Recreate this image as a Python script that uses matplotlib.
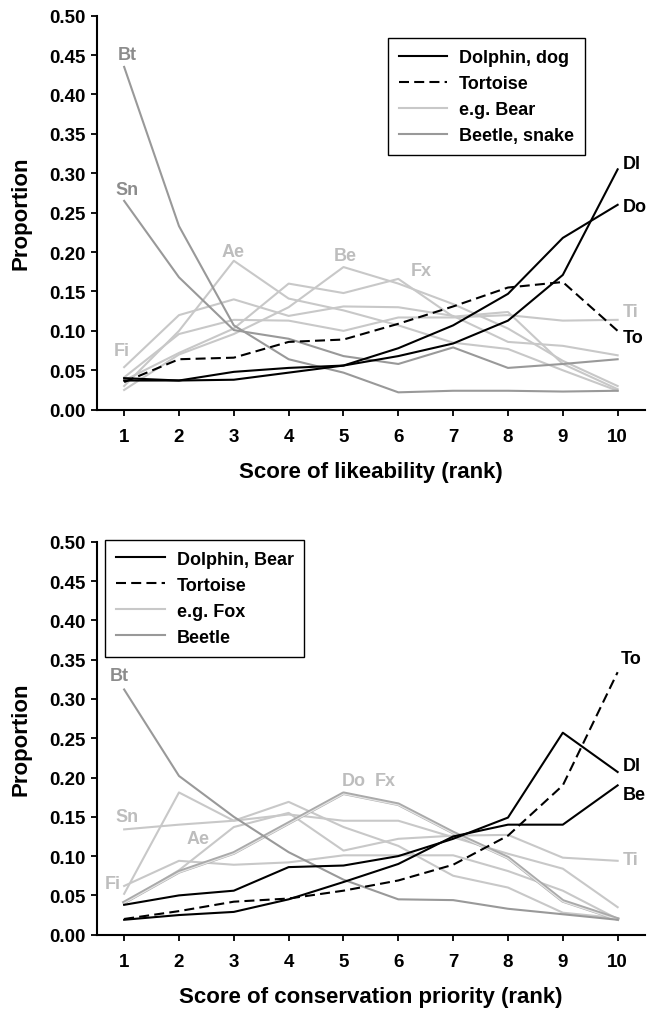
import matplotlib
matplotlib.use("Agg")
import matplotlib.pyplot as plt

plt.rcParams["font.family"] = ["Liberation Sans", "DejaVu Sans"]
plt.rcParams["font.weight"] = "bold"

ranks = [1, 2, 3, 4, 5, 6, 7, 8, 9, 10]

# --- likeability (top panel) ---
like_dl = [0.037, 0.037, 0.038, 0.047, 0.056, 0.068, 0.084, 0.113, 0.171, 0.305]
like_do = [0.040, 0.037, 0.048, 0.053, 0.056, 0.078, 0.107, 0.147, 0.218, 0.260]
like_to = [0.035, 0.064, 0.066, 0.086, 0.089, 0.109, 0.131, 0.155, 0.162, 0.100]
like_fi = [0.054, 0.120, 0.140, 0.119, 0.131, 0.130, 0.119, 0.086, 0.081, 0.069]
like_ae = [0.030, 0.100, 0.189, 0.141, 0.126, 0.107, 0.085, 0.077, 0.050, 0.024]
like_be = [0.025, 0.070, 0.096, 0.130, 0.181, 0.160, 0.134, 0.103, 0.062, 0.030]
like_fx = [0.037, 0.072, 0.103, 0.160, 0.148, 0.166, 0.118, 0.124, 0.058, 0.026]
like_ti = [0.041, 0.096, 0.114, 0.113, 0.100, 0.117, 0.117, 0.120, 0.113, 0.114]
like_bt = [0.435, 0.233, 0.107, 0.064, 0.047, 0.022, 0.024, 0.024, 0.023, 0.024]
like_sn = [0.265, 0.168, 0.101, 0.090, 0.068, 0.058, 0.079, 0.053, 0.058, 0.064]

# --- conservation priority (bottom panel) ---
cons_dl = [0.038, 0.050, 0.056, 0.086, 0.088, 0.100, 0.122, 0.149, 0.257, 0.207]
cons_be = [0.019, 0.025, 0.029, 0.045, 0.067, 0.090, 0.125, 0.140, 0.140, 0.190]
cons_to = [0.020, 0.030, 0.042, 0.046, 0.056, 0.069, 0.089, 0.126, 0.190, 0.334]
cons_sn = [0.134, 0.140, 0.145, 0.153, 0.145, 0.145, 0.124, 0.103, 0.084, 0.035]
cons_ae = [0.052, 0.181, 0.145, 0.169, 0.137, 0.113, 0.075, 0.060, 0.028, 0.021]
cons_fi = [0.062, 0.094, 0.089, 0.092, 0.101, 0.101, 0.101, 0.081, 0.056, 0.020]
cons_do = [0.041, 0.080, 0.104, 0.142, 0.180, 0.166, 0.130, 0.098, 0.043, 0.020]
cons_fx = [0.040, 0.079, 0.103, 0.141, 0.179, 0.165, 0.129, 0.097, 0.042, 0.019]
cons_ti = [0.040, 0.082, 0.137, 0.155, 0.107, 0.122, 0.126, 0.127, 0.098, 0.094]
cons_bt = [0.312, 0.202, 0.150, 0.105, 0.070, 0.045, 0.044, 0.033, 0.026, 0.019]

BLACK = "black"
LIGHT = "#c8c8c8"
DARK = "#999999"
LIGHT_TXT = "#bdbdbd"
DARK_TXT = "#8c8c8c"
LW = 1.5
DASH = (4.8, 2.5)


def style_axes(ax, xlabel):
    ax.set_xlim(0.5, 10.5)
    ax.set_ylim(0, 0.5)
    ax.set_xticks(ranks)
    ax.set_yticks([i * 0.05 for i in range(11)])
    ax.set_yticklabels([f"{i * 0.05:.2f}" for i in range(11)])
    for s in ("top", "right"):
        ax.spines[s].set_visible(False)
    for s in ("left", "bottom"):
        ax.spines[s].set_linewidth(1.5)
    ax.tick_params(direction="out", length=4, width=1.3, labelsize=13.5, pad=4)
    ax.tick_params(axis="x", pad=9)
    ax.set_xlabel(xlabel, fontsize=16, fontweight="bold", labelpad=12)
    ax.set_ylabel("Proportion", fontsize=16, fontweight="bold", labelpad=13)


def label(ax, x, y, s, color, ha="center"):
    ax.text(x, y, s, color=color, fontsize=13, fontweight="bold",
            ha=ha, va="center", clip_on=False)


def add_legend(ax, names, anchor):
    h = [plt.Line2D([], [], color=BLACK, lw=LW),
         plt.Line2D([], [], color=BLACK, lw=LW, dashes=DASH),
         plt.Line2D([], [], color=LIGHT, lw=LW),
         plt.Line2D([], [], color=DARK, lw=LW)]
    leg = ax.legend(h, names, loc="upper left", bbox_to_anchor=anchor,
                    borderaxespad=0, fancybox=False, edgecolor="black",
                    framealpha=1, prop={"size": 13, "weight": "bold"},
                    handlelength=2.7, handletextpad=0.65, labelspacing=0.5,
                    borderpad=0.6)
    leg.get_frame().set_linewidth(1.0)


fig = plt.figure(figsize=(6.47, 10.12), dpi=100)

# top panel
ax1 = fig.add_axes([0.1495, 0.5942, 0.8475, 0.3893])
for ys in (like_fi, like_ae, like_be, like_fx, like_ti):
    ax1.plot(ranks, ys, color=LIGHT, lw=LW)
for ys in (like_bt, like_sn):
    ax1.plot(ranks, ys, color=DARK, lw=LW)
ax1.plot(ranks, like_dl, color=BLACK, lw=LW)
ax1.plot(ranks, like_do, color=BLACK, lw=LW)
ax1.plot(ranks, like_to, color=BLACK, lw=LW, dashes=DASH)

add_legend(ax1, ["Dolphin, dog", "Tortoise", "e.g. Bear", "Beetle, snake"],
           (0.531, 0.943))

label(ax1, 1.05, 0.451, "Bt", DARK_TXT)
label(ax1, 1.05, 0.280, "Sn", DARK_TXT)
label(ax1, 2.99, 0.201, "Ae", LIGHT_TXT)
label(ax1, 5.03, 0.196, "Be", LIGHT_TXT)
label(ax1, 6.41, 0.177, "Fx", LIGHT_TXT)
label(ax1, 0.95, 0.075, "Fi", LIGHT_TXT)
label(ax1, 10.1, 0.124, "Ti", LIGHT_TXT, ha="left")
label(ax1, 10.1, 0.312, "Dl", BLACK, ha="left")
label(ax1, 10.1, 0.258, "Do", BLACK, ha="left")
label(ax1, 10.1, 0.092, "To", BLACK, ha="left")
style_axes(ax1, "Score of likeability (rank)")

# bottom panel
ax2 = fig.add_axes([0.1495, 0.0754, 0.8475, 0.3883])
for ys in (cons_sn, cons_ae, cons_fi, cons_ti):
    ax2.plot(ranks, ys, color=LIGHT, lw=LW)
ax2.plot(ranks, cons_do, color="#aaaaaa", lw=2.6)
ax2.plot(ranks, cons_fx, color="#e4e4e4", lw=0.9)
ax2.plot(ranks, cons_bt, color=DARK, lw=LW)
ax2.plot(ranks, cons_dl, color=BLACK, lw=LW)
ax2.plot(ranks, cons_be, color=BLACK, lw=LW)
ax2.plot(ranks, cons_to, color=BLACK, lw=LW, dashes=DASH)

add_legend(ax2, ["Dolphin, Bear", "Tortoise", "e.g. Fox", "Beetle"],
           (0.0157, 1.005))

label(ax2, 0.91, 0.330, "Bt", DARK_TXT)
label(ax2, 1.05, 0.150, "Sn", LIGHT_TXT)
label(ax2, 2.35, 0.122, "Ae", LIGHT_TXT)
label(ax2, 0.80, 0.065, "Fi", LIGHT_TXT)
label(ax2, 5.18, 0.196, "Do", LIGHT_TXT)
label(ax2, 5.76, 0.196, "Fx", LIGHT_TXT)
label(ax2, 10.1, 0.215, "Dl", BLACK, ha="left")
label(ax2, 10.1, 0.179, "Be", BLACK, ha="left")
label(ax2, 10.1, 0.096, "Ti", LIGHT_TXT, ha="left")
label(ax2, 10.05, 0.351, "To", BLACK, ha="left")
style_axes(ax2, "Score of conservation priority (rank)")

fig.savefig("out.png", dpi=100)
